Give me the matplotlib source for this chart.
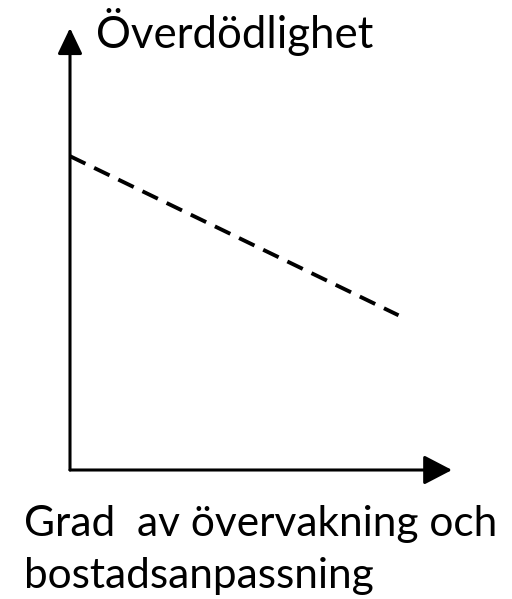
import matplotlib.pyplot as plt

# schematic: excess mortality falls as monitoring/adaptation rises
x_vals = [0.0, 0.86]
y_vals = [0.71, 0.35]
y_label = "Överdödlighet"
x_label_lines = ["Grad  av övervakning och", "bostadsanpassning"]

W, H = 512, 599
fig = plt.figure(figsize=(W / 100, H / 100), dpi=100)

# axes box: origin at (70, 470) px, x tip at 452, y tip at 28
ax = fig.add_axes([70 / W, (H - 470) / H, (452 - 70) / W, (470 - 28) / H])
ax.set_xlim(0, 1)
ax.set_ylim(0, 1)
ax.axis('off')

ax.plot(x_vals, y_vals, color='black', lw=2.8, linestyle=(0, (4.4, 2.5)),
        solid_capstyle='butt', dash_capstyle='butt')

# axis arrows
ax.annotate('', xy=(1, 0), xytext=(0, 0), xycoords='axes fraction',
            arrowprops=dict(arrowstyle='-|>,head_length=0.96,head_width=0.5',
                            mutation_scale=18, lw=2.2, color='black',
                            shrinkA=0, shrinkB=0))
ax.annotate('', xy=(0, 1), xytext=(0, 0), xycoords='axes fraction',
            arrowprops=dict(arrowstyle='-|>,head_length=0.88,head_width=0.42',
                            mutation_scale=18, lw=2.2, color='black',
                            shrinkA=0, shrinkB=0))

fig.text(96 / W, 1 - 48 / H, y_label, fontsize=31.5, family='Lato',
         ha='left', va='baseline')
for line, base in zip(x_label_lines, [536, 588]):
    fig.text(24 / W, 1 - base / H, line, fontsize=30.5, family='Lato',
             ha='left', va='baseline')

fig.savefig('out.png', dpi=100, facecolor='white')
